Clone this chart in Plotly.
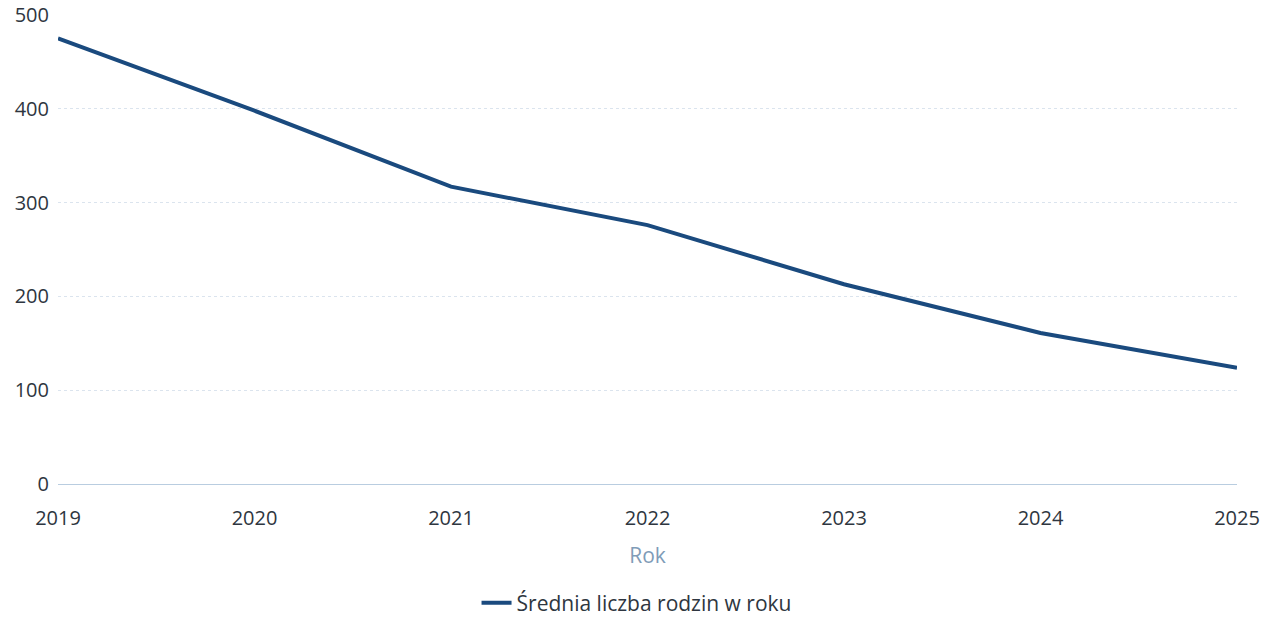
import plotly.graph_objects as go

years = [2019, 2020, 2021, 2022, 2023, 2024, 2025]
values = [475, 398, 317, 276, 213, 161, 124]
series_name = "Średnia liczba rodzin w roku"
y_ticks = [0, 100, 200, 300, 400, 500]

fig = go.Figure()
fig.add_trace(go.Scatter(
    x=years, y=values, mode="lines", name=series_name,
    line=dict(color="#1a4a7e", width=4),
))

fig.update_layout(
    width=1269, height=618,
    margin=dict(l=58, r=32, t=15, b=134, autoexpand=False),
    paper_bgcolor="white", plot_bgcolor="white",
    font=dict(family="Open Sans", size=20, color="#2e3640"),
    showlegend=True,
    legend=dict(orientation="h", x=0.4907, xanchor="center", y=-0.254, yanchor="middle",
                font=dict(size=21, color="#2e3640")),
    xaxis=dict(
        range=[2019, 2025], tickvals=years, ticktext=[str(y) for y in years],
        showgrid=False, zeroline=False, showline=False, ticks="", automargin=False,
        ticklabelstandoff=20,
        title=dict(text="Rok", font=dict(size=21, color="#7f9cb8"), standoff=18),
    ),
    yaxis=dict(
        range=[0, 500], tickvals=y_ticks, showgrid=True, gridcolor="#dbe4ee", griddash="dot",
        gridwidth=1, zeroline=True, zerolinecolor="#b9cde0", zerolinewidth=1, ticks="",
        showline=False, ticklabelstandoff=8, automargin=False,
    ),
)
fig.write_html("out.html", config={"displayModeBar": False})

with open("out.html", "r", encoding="utf-8") as f:
    html = f.read()
html = html.replace("<head>", "<head><style>html,body{margin:0;padding:0;overflow:hidden}</style>", 1)
with open("out.html", "w", encoding="utf-8") as f:
    f.write(html)
